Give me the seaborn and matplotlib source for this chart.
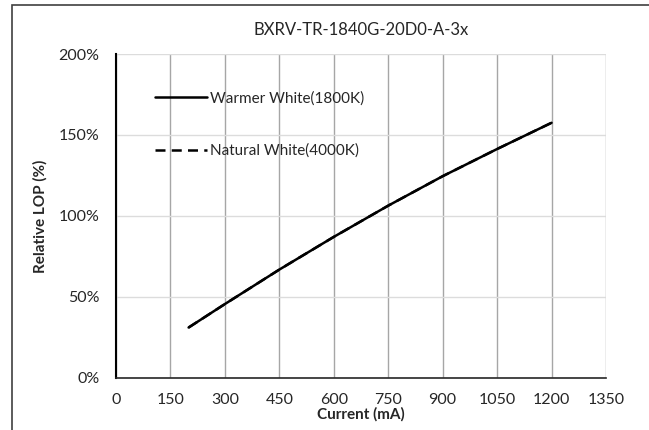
import matplotlib
matplotlib.use("Agg")
import matplotlib.pyplot as plt
import pandas as pd
import seaborn as sns
from matplotlib.patches import Rectangle
from matplotlib.ticker import FuncFormatter

# Data
current = [200, 300, 450, 600, 750, 900, 1050, 1200]
warm_white = [31.0, 45.5, 66.8, 87.0, 106.3, 124.5, 141.3, 157.5]
natural_white = [31.0, 45.5, 66.8, 87.0, 106.3, 124.5, 141.3, 157.5]
series_names = ["Warmer White(1800K)", "Natural White(4000K)"]
x_ticks = [0, 150, 300, 450, 600, 750, 900, 1050, 1200, 1350]
y_ticks = [0, 50, 100, 150, 200]

df = pd.concat([
    pd.DataFrame({"current": current, "lop": warm_white, "series": series_names[0]}),
    pd.DataFrame({"current": current, "lop": natural_white, "series": series_names[1]}),
])

sns.set_style("white")
plt.rcParams["font.family"] = ["Lato", "DejaVu Sans"]

fig = plt.figure(figsize=(6.49, 4.30), dpi=100)
ax = fig.add_axes([116 / 649, 1 - 377.7 / 430, 490 / 649, 323.7 / 430])

# outer frame (top and left edges visible)
fig.patches.append(Rectangle((12 / 649, -0.1), 1.2, 1 - 5 / 430 + 0.1,
                             transform=fig.transFigure, fill=False,
                             edgecolor="#404040", linewidth=1.2))

sns.lineplot(data=df, x="current", y="lop", style="series",
             dashes={series_names[0]: "", series_names[1]: (4, 2.5)},
             color="black", linewidth=1.8, ax=ax)

ax.set_xlim(0, 1350)
ax.set_ylim(0, 200)
ax.set_xticks(x_ticks)
ax.set_yticks(y_ticks)
ax.yaxis.set_major_formatter(FuncFormatter(lambda v, p: f"{v:.0f}%"))
ax.tick_params(length=0, labelsize=11.5, colors="#262626")
ax.tick_params(axis="y", pad=12)
ax.tick_params(axis="x", pad=11)

ax.xaxis.grid(True, color="#a6a6a6", linewidth=1)
ax.yaxis.grid(True, color="#dcdcdc", linewidth=1)
ax.set_axisbelow(True)
for s in ["top", "right"]:
    ax.spines[s].set_visible(False)
ax.spines["left"].set_color("black")
ax.spines["left"].set_linewidth(1.5)
ax.spines["bottom"].set_color("#262626")
ax.spines["bottom"].set_linewidth(1.2)

ax.set_xlabel("Current (mA)", fontsize=11, fontweight="bold", labelpad=0)
ax.set_ylabel("Relative LOP (%)", fontsize=11, fontweight="bold", labelpad=8)

fig.text(361 / 649, 1 - 30 / 430, "BXRV-TR-1840G-20D0-A-3x", ha="center",
         va="center", fontsize=12, color="#262626")

leg = ax.legend(loc="upper left", bbox_to_anchor=(0.08, 0.885), frameon=False,
                fontsize=11, handlelength=3.4, handletextpad=0.2,
                labelspacing=2.5, borderpad=0, borderaxespad=0)
for t in leg.get_texts():
    t.set_color("#262626")

fig.savefig("out.png", dpi=100)
